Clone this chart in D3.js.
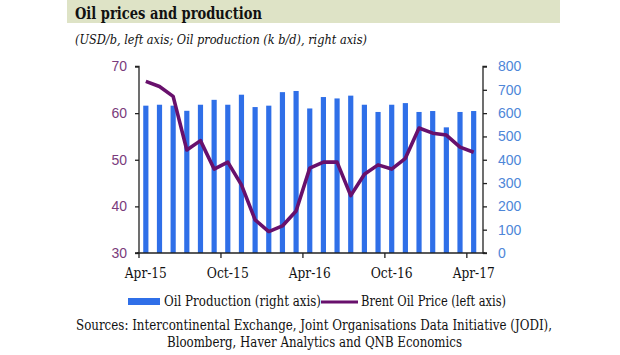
<!DOCTYPE html>
<html><head><meta charset="utf-8">
<script src="https://cdn.jsdelivr.net/npm/d3@7/dist/d3.min.js"></script>
<style>
html,body{margin:0;padding:0;background:#fff;}
svg{display:block;}
</style></head>
<body>
<svg id="chart" width="620" height="355"></svg>
<script>
const months = ["Apr-15","May-15","Jun-15","Jul-15","Aug-15","Sep-15","Oct-15","Nov-15","Dec-15","Jan-16","Feb-16","Mar-16","Apr-16","May-16","Jun-16","Jul-16","Aug-16","Sep-16","Oct-16","Nov-16","Dec-16","Jan-17","Feb-17","Mar-17","Apr-17"];
const production = [632,636,632,610,636,657,636,679,626,632,690,695,620,669,663,675,636,605,636,643,605,609,539,605,609];
const brent = [66.8,65.7,63.6,52.1,54.1,48.0,49.5,44.6,37.1,34.6,35.8,39.0,48.2,49.5,49.5,42.3,46.9,48.9,48.0,50.3,56.8,55.7,55.3,52.7,51.6];
const xTickLabels = ["Apr-15","Oct-15","Apr-16","Oct-16","Apr-17"];
const leftTicks = [30,40,50,60,70];
const rightTicks = [0,100,200,300,400,500,600,700,800];

const svg = d3.select("#chart");
const serif = "'DejaVu Serif Condensed','DejaVu Serif',serif";
const sans = "'Liberation Sans',Arial,sans-serif";

// title band
svg.append("rect").attr("x",67).attr("y",0).attr("width",493).attr("height",23).attr("fill","#dee3c6");
svg.append("text").attr("x",75).attr("y",18.5).attr("font-family",serif).attr("font-weight","bold")
  .attr("font-size",17).attr("fill","#111").attr("textLength",187).attr("lengthAdjust","spacingAndGlyphs")
  .text("Oil prices and production");
svg.append("text").attr("x",75).attr("y",44).attr("font-family",serif).attr("font-style","italic")
  .attr("font-size",13).attr("fill","#111").attr("textLength",292).attr("lengthAdjust","spacingAndGlyphs")
  .text("(USD/b, left axis; Oil production (k b/d), right axis)");

const x0 = 139, x1 = 480.5, yTop = 66.5, yBot = 253, xRight = 483;
const x = d3.scaleBand().domain(months).range([x0,x1]).paddingInner(0.62).paddingOuter(0.31);
const yL = d3.scaleLinear().domain([30,70]).range([yBot,yTop]);
const yR = d3.scaleLinear().domain([0,800]).range([yBot,yTop]);

// bars
svg.append("g").selectAll("rect").data(production).join("rect")
  .attr("x",(d,i)=>x(months[i])).attr("width",x.bandwidth())
  .attr("y",d=>yR(d)).attr("height",d=>yBot-yR(d)).attr("fill","#2f6fe8");

// line
const line = d3.line().x((d,i)=>x(months[i])+x.bandwidth()/2).y(d=>yL(d));
svg.append("path").datum(brent).attr("d",line).attr("fill","none")
  .attr("stroke","#68106c").attr("stroke-width",3.6).attr("stroke-linejoin","round");

// left axis
const gL = svg.append("g").attr("transform",`translate(${x0},0)`)
  .call(d3.axisLeft(yL).tickValues(leftTicks).tickSize(4).tickPadding(8));
gL.selectAll("path,line").attr("stroke","#222").attr("stroke-width",1.3);
gL.select(".domain").attr("d",`M-4,${yTop}H0V${yBot}H-4`);
gL.selectAll("text").attr("font-family",sans).attr("font-size",14).attr("fill","#7a3b7c");

// right axis
const gR = svg.append("g").attr("transform",`translate(${xRight},0)`)
  .call(d3.axisRight(yR).tickValues(rightTicks).tickSize(4).tickPadding(11));
gR.selectAll("path,line").attr("stroke","#222").attr("stroke-width",1.3);
gR.select(".domain").attr("d",`M4,${yTop}H0V${yBot}H4`);
gR.selectAll("text").attr("font-family",sans).attr("font-size",14).attr("fill","#4e86d8");

// bottom axis
const step = x.step();
const gB = svg.append("g").attr("transform",`translate(0,${yBot})`);
gB.append("line").attr("x1",x0-2).attr("x2",xRight+2).attr("y1",0).attr("y2",0).attr("stroke","#222").attr("stroke-width",1.3);
const tickIdx = xTickLabels.map(l=>months.indexOf(l));
gB.selectAll("line.t").data(tickIdx).join("line").attr("class","t")
  .attr("x1",i=>x(months[i])-x.paddingInner()*step/2).attr("x2",i=>x(months[i])-x.paddingInner()*step/2)
  .attr("y1",0).attr("y2",5).attr("stroke","#222").attr("stroke-width",1.3);
gB.selectAll("text").data(tickIdx).join("text")
  .attr("x",i=>x(months[i])+x.bandwidth()/2).attr("y",25).attr("text-anchor","middle")
  .attr("font-family",serif).attr("font-size",14.5).attr("fill","#111")
  .attr("textLength",42).attr("lengthAdjust","spacingAndGlyphs")
  .text(i=>months[i]);

// legend
svg.append("rect").attr("x",128).attr("y",298).attr("width",32).attr("height",7).attr("fill","#2f6fe8");
svg.append("text").attr("x",164).attr("y",306).attr("font-family",serif).attr("font-size",14).attr("fill","#111")
  .attr("textLength",157).attr("lengthAdjust","spacingAndGlyphs").text("Oil Production (right axis)");
svg.append("line").attr("x1",321).attr("x2",358).attr("y1",302).attr("y2",302).attr("stroke","#68106c").attr("stroke-width",3);
svg.append("text").attr("x",361).attr("y",306).attr("font-family",serif).attr("font-size",14).attr("fill","#111")
  .attr("textLength",145).attr("lengthAdjust","spacingAndGlyphs").text("Brent Oil Price (left axis)");

// sources
svg.append("text").attr("x",76).attr("y",330).attr("font-family",serif).attr("font-size",14.5).attr("fill","#111")
  .attr("textLength",476).attr("lengthAdjust","spacingAndGlyphs")
  .text("Sources:  Intercontinental Exchange, Joint Organisations Data Initiative (JODI),");
svg.append("text").attr("x",167).attr("y",347).attr("font-family",serif).attr("font-size",14.5).attr("fill","#111")
  .attr("textLength",295).attr("lengthAdjust","spacingAndGlyphs")
  .text("Bloomberg, Haver Analytics and QNB Economics");
</script>
</body></html>
